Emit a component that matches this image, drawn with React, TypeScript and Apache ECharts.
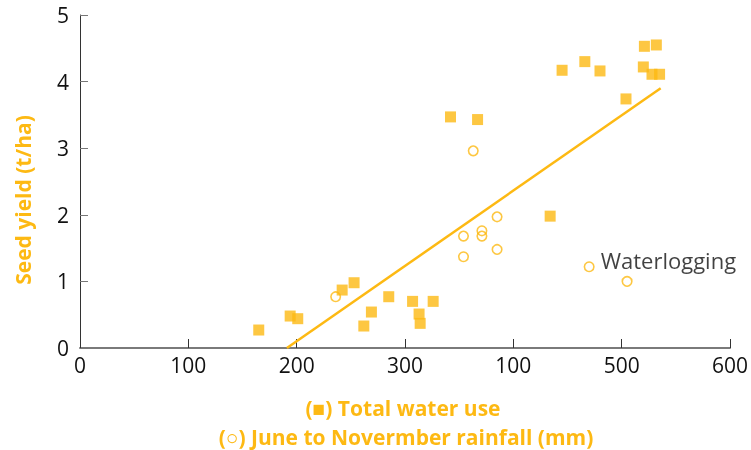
import React, { useEffect, useRef } from "react";
import * as echarts from "echarts";

const COLOR = "#FDB913";

// Total water use (squares): [mm, t/ha]
const totalWaterUse: number[][] = [
  [165, 0.27], [194, 0.48], [201, 0.44], [242, 0.87], [253, 0.98],
  [262, 0.33], [269, 0.54], [285, 0.77], [307, 0.70], [313, 0.51],
  [314, 0.37], [326, 0.70], [342, 3.47], [367, 3.43], [434, 1.98],
  [445, 4.17], [466, 4.30], [480, 4.16], [504, 3.74], [521, 4.53],
  [532, 4.55], [520, 4.22], [528, 4.11], [535, 4.11],
];

// June to November rainfall (circles): [mm, t/ha]
const rainfall: number[][] = [
  [236, 0.77], [363, 2.96], [385, 1.97], [371, 1.76], [354, 1.68],
  [371, 1.68], [385, 1.48], [354, 1.37], [505, 1.00],
];
const waterlogging: number[][] = [[470, 1.22]];

// Regression line endpoints
const fitLine: number[][] = [[191, 0], [536, 3.9]];

const xTickLabels = ["0", "100", "200", "300", "100", "500", "600"];
const yTickLabels = ["0", "1", "2", "3", "4", "5"];

const FONT = "'Open Sans', sans-serif";

export default function App() {
  const ref = useRef<HTMLDivElement>(null);
  useEffect(() => {
    if (!ref.current) return;
    const chart = echarts.init(ref.current, null, { renderer: "svg" });
    const circleStyle = {
      color: "transparent",
      borderColor: COLOR,
      borderWidth: 1.6,
    };
    chart.setOption({
      animation: false,
      grid: { left: 80, right: 21, top: 15, bottom: 102 },
      xAxis: {
        type: "value",
        min: 0,
        max: 600,
        interval: 100,
        axisLine: { show: true, lineStyle: { color: "#7a7a7a", width: 2 } },
        axisTick: { show: true, inside: true, length: 9, lineStyle: { color: "#333", width: 1 } },
        splitLine: { show: false },
        axisLabel: {
          color: "#111",
          fontSize: 21,
          fontFamily: FONT,
          margin: 6,
          formatter: (v: number) => xTickLabels[Math.round(v / 100)] ?? "",
        },
      },
      yAxis: {
        type: "value",
        min: 0,
        max: 5,
        interval: 1,
        axisLine: { show: true, lineStyle: { color: "#333", width: 1 } },
        axisTick: { show: true, inside: true, length: 8, lineStyle: { color: "#777", width: 1 } },
        splitLine: { show: false },
        axisLabel: {
          color: "#111",
          fontSize: 21,
          fontFamily: FONT,
          margin: 11,
          formatter: (v: number) => yTickLabels[Math.round(v)] ?? "",
        },
      },
      series: [
        {
          type: "scatter",
          name: "Total water use",
          symbol: "rect",
          symbolSize: 11,
          itemStyle: { color: COLOR },
          data: totalWaterUse,
          z: 2,
        },
        {
          type: "scatter",
          name: "June to November rainfall",
          symbol: "circle",
          symbolSize: 9.5,
          itemStyle: circleStyle,
          data: rainfall,
          z: 2,
        },
        {
          type: "scatter",
          name: "Waterlogging",
          symbol: "circle",
          symbolSize: 9.5,
          itemStyle: circleStyle,
          data: waterlogging,
          label: {
            show: true,
            position: "right",
            distance: 6,
            offset: [0, -7],
            formatter: "Waterlogging",
            color: "#111",
            fontSize: 22,
            fontFamily: FONT,
          },
          z: 2,
        },
        {
          type: "line",
          data: fitLine,
          symbol: "none",
          lineStyle: { color: COLOR, width: 2.5 },
          z: 3,
        },
      ],
      graphic: [
        {
          type: "text",
          x: 23,
          y: 200,
          rotation: Math.PI / 2,
          style: {
            text: "Seed yield (t/ha)",
            fill: COLOR,
            font: `bold 21px ${FONT}`,
            align: "center",
            verticalAlign: "middle",
          },
        },
        {
          type: "text",
          x: 403,
          y: 408,
          style: {
            text: "(■) Total water use",
            fill: COLOR,
            font: `bold 21px ${FONT}`,
            align: "center",
            verticalAlign: "middle",
          },
        },
        {
          type: "text",
          x: 406,
          y: 437,
          style: {
            text: "(○) June to Novermber rainfall (mm)",
            fill: COLOR,
            font: `bold 21px ${FONT}`,
            align: "center",
            verticalAlign: "middle",
          },
        },
      ],
    });
    return () => chart.dispose();
  }, []);
  return (
    <div
      ref={ref}
      style={{ position: "fixed", left: 0, top: 0, width: 751, height: 450 }}
    />
  );
}
